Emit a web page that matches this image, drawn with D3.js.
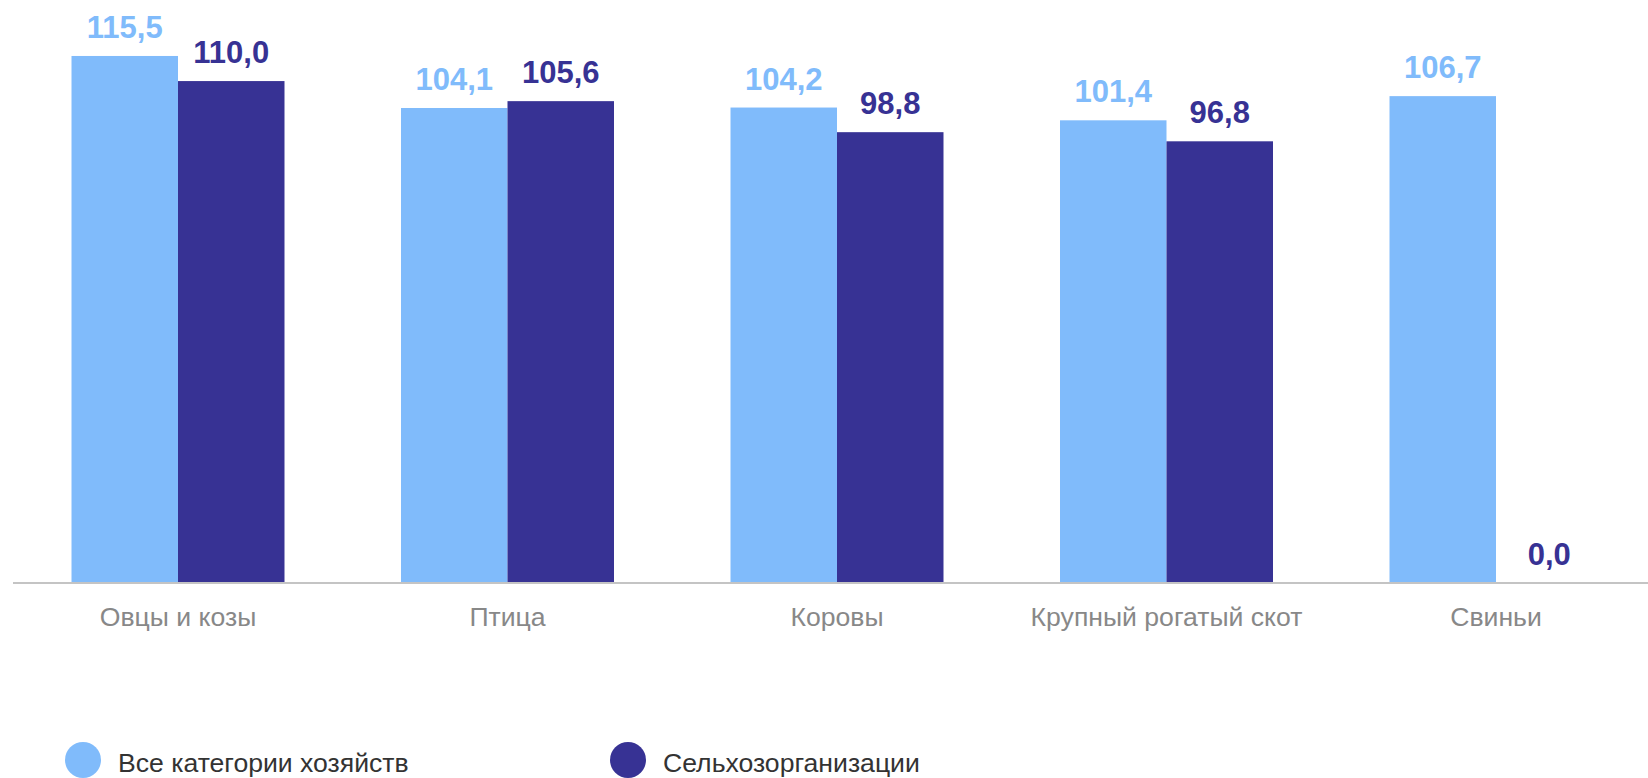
<!DOCTYPE html>
<html>
<head>
<meta charset="utf-8">
<script src="https://cdn.jsdelivr.net/npm/d3@7"></script>
<style>
  html, body { margin: 0; padding: 0; background: #fff; }
  svg { display: block; }
</style>
</head>
<body>
<svg id="chart" width="1648" height="778"></svg>
<script>
const categories = ["Овцы и козы", "Птица", "Коровы", "Крупный рогатый скот", "Свиньи"];
const seriesNames = ["Все категории хозяйств", "Сельхозорганизации"];
const allFarms = [115.5, 104.1, 104.2, 101.4, 106.7];
const agriOrgs = [110.0, 105.6, 98.8, 96.8, 0.0];
const colors = ["#80bbfb", "#373294"];

const svg = d3.select("#chart");
const font = "'Liberation Sans', Arial, sans-serif";
const baseY = 583;

const x0 = d3.scaleBand()
  .domain(categories)
  .range([13.25, 1660.75])
  .paddingInner(0.3536)
  .paddingOuter(0.1768);

const x1 = d3.scaleBand()
  .domain(seriesNames)
  .range([0, x0.bandwidth()]);

const y = d3.scaleLinear().domain([0, 120]).range([baseY, baseY - 120 * 4.563]);

const series = [allFarms, agriOrgs];
const data = [];
categories.forEach((c, i) => {
  seriesNames.forEach((s, j) => {
    data.push({ cat: c, s: s, v: series[j][i], color: colors[j] });
  });
});

const fmt = v => d3.format(".1f")(v).replace(".", ",");

svg.append("g").selectAll("rect")
  .data(data)
  .join("rect")
  .attr("x", d => x0(d.cat) + x1(d.s))
  .attr("y", d => y(d.v))
  .attr("width", x1.bandwidth())
  .attr("height", d => baseY - y(d.v))
  .attr("fill", d => d.color);

svg.append("g").selectAll("text")
  .data(data)
  .join("text")
  .attr("x", d => x0(d.cat) + x1(d.s) + x1.bandwidth() / 2)
  .attr("y", d => y(d.v) - 18)
  .attr("text-anchor", "middle")
  .attr("font-family", font)
  .attr("font-weight", "bold")
  .attr("font-size", 31)
  .attr("fill", d => d.color)
  .text(d => fmt(d.v));

// axis
const axis = svg.append("g")
  .attr("transform", `translate(0,${baseY})`)
  .call(d3.axisBottom(x0).tickSize(0).tickPadding(0));
axis.select(".domain").remove();
axis.append("line")
  .attr("x1", 13).attr("x2", 1648)
  .attr("y1", 0).attr("y2", 0)
  .attr("stroke", "#c4c4c4")
  .attr("stroke-width", 2);
axis.selectAll(".tick text")
  .attr("y", 43)
  .attr("dy", 0)
  .attr("font-family", font)
  .attr("font-size", 26.6)
  .attr("fill", "#888888");

// legend
const legendX = [83, 628];
const legend = svg.append("g").selectAll("g")
  .data(seriesNames)
  .join("g")
  .attr("transform", (d, i) => `translate(${legendX[i]},760)`);
legend.append("circle")
  .attr("r", 18)
  .attr("fill", (d, i) => colors[i]);
legend.append("text")
  .attr("x", 35)
  .attr("y", 12)
  .attr("font-family", font)
  .attr("font-size", 26.6)
  .attr("fill", "#333333")
  .text(d => d);
</script>
</body>
</html>
